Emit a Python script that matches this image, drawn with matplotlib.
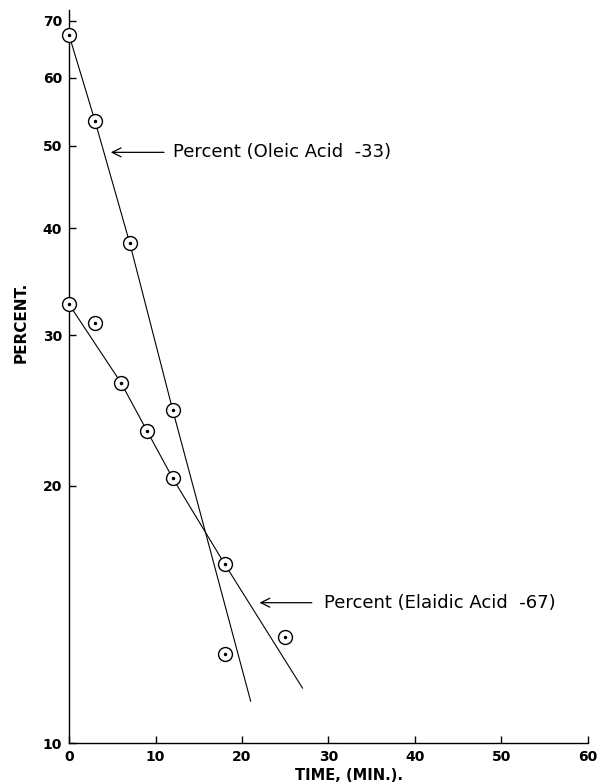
import matplotlib
matplotlib.use("Agg")
import matplotlib.pyplot as plt
from matplotlib.ticker import FixedLocator, NullLocator, FixedFormatter

# measured points (time in min, percent)
oleic_t = [0, 3, 7, 12, 18]
oleic_pct = [67.3, 53.4, 38.5, 24.5, 12.7]
elaidic_t = [0, 3, 6, 9, 12, 18, 25]
elaidic_pct = [32.6, 31.0, 26.4, 23.2, 20.4, 16.2, 13.3]

# hand drawn curves through the points
oleic_line_t = [0, 3, 7, 12, 21]
oleic_line_pct = [67.3, 53.4, 38.5, 24.5, 11.2]
elaidic_line_t = [0, 6, 9, 12, 18, 27]
elaidic_line_pct = [32.6, 26.4, 23.2, 20.4, 16.2, 11.6]

y_ticks = [10, 20, 30, 40, 50, 60, 70]
x_ticks = [0, 10, 20, 30, 40, 50, 60]

fig = plt.figure(figsize=(6.01, 7.84), dpi=100)
ax = fig.add_axes([0.115, 0.052, 0.863, 0.935])

ax.plot(oleic_line_t, oleic_line_pct, color='black', lw=0.8, zorder=2)
ax.plot(elaidic_line_t, elaidic_line_pct, color='black', lw=0.8, zorder=2)

for t, p in [(oleic_t, oleic_pct), (elaidic_t, elaidic_pct)]:
    ax.plot(t, p, linestyle='none', marker='o', ms=10, mfc='white',
            mec='black', mew=1.0, zorder=3, clip_on=False)
    ax.plot(t, p, linestyle='none', marker='o', ms=1.5, color='black',
            zorder=4, clip_on=False)

ax.set_yscale('log')
ax.set_xlim(0, 60)
ax.set_ylim(10, 72)
ax.yaxis.set_major_locator(FixedLocator(y_ticks))
ax.yaxis.set_major_formatter(FixedFormatter([str(v) for v in y_ticks]))
ax.yaxis.set_minor_locator(NullLocator())
ax.set_xticks(x_ticks)
ax.set_xticklabels([str(v) for v in x_ticks])

for s in ['top', 'right']:
    ax.spines[s].set_visible(False)
for s in ['left', 'bottom']:
    ax.spines[s].set_linewidth(1.0)

ax.tick_params(direction='in', length=5, width=1.0, labelsize=10, pad=5)
for lab in ax.get_xticklabels() + ax.get_yticklabels():
    lab.set_fontweight('bold')

ax.set_ylabel('PERCENT.', fontsize=11, fontweight='bold')
ax.yaxis.set_label_coords(-0.078, 0.574)
ax.set_xlabel('TIME, (MIN.).', fontsize=10.5, fontweight='bold')
ax.xaxis.set_label_coords(0.54, -0.034)

ax.annotate('', xy=(4.5, 49.1), xytext=(11.3, 49.1),
            arrowprops=dict(arrowstyle='->', color='black', lw=0.9,
                            mutation_scale=16))
ax.text(12.0, 49.1, 'Percent (Oleic Acid  -33)', fontsize=13,
        va='center', ha='left')

ax.annotate('', xy=(21.7, 14.6), xytext=(28.4, 14.6),
            arrowprops=dict(arrowstyle='->', color='black', lw=0.9,
                            mutation_scale=16))
ax.text(29.5, 14.6, 'Percent (Elaidic Acid  -67)', fontsize=13,
        va='center', ha='left')

fig.savefig('out.png', dpi=100)
